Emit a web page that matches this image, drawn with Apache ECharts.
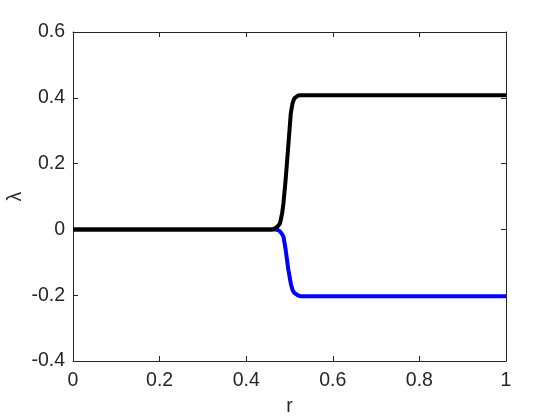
<!DOCTYPE html>
<html>
<head>
<meta charset="utf-8">
<script src="https://cdn.jsdelivr.net/npm/echarts@6/dist/echarts.min.js"></script>
<style>
  html, body { margin: 0; padding: 0; background: #fff; }
  #chart { width: 560px; height: 420px; }
</style>
</head>
<body>
<div id="chart"></div>
<script>
// values
const rVals     = [0, 0.46, 0.4665, 0.472, 0.478, 0.483, 0.486, 0.491, 0.497, 0.503, 0.507, 0.511, 0.515, 0.520, 0.526, 1];
const blackVals = [0, 0, 0.003, 0.008, 0.018, 0.049, 0.079, 0.150, 0.251, 0.353, 0.383, 0.398, 0.404, 0.407, 0.408, 0.408];
const blueVals  = [0, 0, 0, -0.001, -0.006, -0.015, -0.022, -0.060, -0.120, -0.165, -0.184, -0.193, -0.198, -0.201, -0.203, -0.203];

const xName = "r";
const yName = "λ";

const axisColor = "#262626";
const font = "'Liberation Sans', Arial, sans-serif";
const fs = 19.5;

const chart = echarts.init(document.getElementById("chart"));

const pairs = (ys) => rVals.map((r, i) => [r, ys[i]]);

const baseAxis = {
  type: "value",
  axisLine: { show: true, onZero: false, lineStyle: { color: axisColor, width: 1 } },
  axisTick: { show: true, inside: true, length: 5, lineStyle: { color: axisColor } },
  splitLine: { show: false },
};

chart.setOption({
  animation: false,
  backgroundColor: "#fff",
  grid: { left: 73, right: 54, top: 32, bottom: 59, outerBoundsMode: "none", containLabel: false },
  xAxis: [
    {
      ...baseAxis,
      position: "bottom",
      min: 0, max: 1, interval: 0.2,
      name: xName,
      nameLocation: "middle",
      nameGap: 36,
      nameMoveOverlap: false,
      nameTextStyle: { color: axisColor, fontSize: fs, fontFamily: font },
      axisLabel: { color: axisColor, fontSize: fs, fontFamily: font, margin: 10 },
    },
    {
      ...baseAxis,
      position: "top",
      min: 0, max: 1, interval: 0.2,
      axisLabel: { show: false },
    },
  ],
  yAxis: [
    {
      ...baseAxis,
      position: "left",
      min: -0.4, max: 0.6, interval: 0.2,
      name: yName,
      nameLocation: "middle",
      nameGap: 47,
      nameMoveOverlap: false,
      nameTextStyle: { color: axisColor, fontSize: fs, fontFamily: font },
      axisLabel: { color: axisColor, fontSize: fs, fontFamily: font, margin: 8 },
    },
    {
      ...baseAxis,
      position: "right",
      min: -0.4, max: 0.6, interval: 0.2,
      axisLabel: { show: false },
    },
  ],
  series: [
    {
      type: "line",
      data: pairs(blueVals),
      showSymbol: false,
      lineStyle: { color: "#0000ff", width: 4 },
      z: 2,
    },
    {
      type: "line",
      data: pairs(blackVals),
      showSymbol: false,
      lineStyle: { color: "#000000", width: 4 },
      z: 3,
    },
  ],
});
</script>
</body>
</html>
